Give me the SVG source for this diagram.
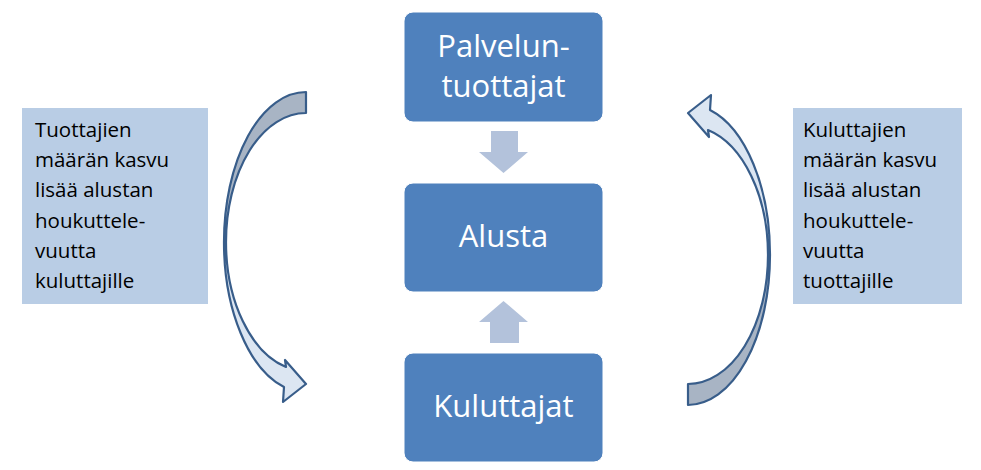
<svg xmlns="http://www.w3.org/2000/svg" width="981" height="470" viewBox="0 0 981 470">
<style>
.node{fill:#4f81bd;stroke:#ffffff;stroke-width:1}
.ntext{font-family:"Open Sans","Liberation Sans",sans-serif;font-size:31px;fill:#ffffff;text-anchor:middle}
.side{fill:#b9cde5}
.stext{font-family:"Open Sans","Liberation Sans",sans-serif;font-size:20.5px;fill:#000000}
.blk{fill:#b3c2db}
.dark{fill:#a8b4c4;stroke:#385d8a;stroke-width:2.2;stroke-linejoin:round}
.light{fill:#dce6f2;stroke:#385d8a;stroke-width:2.2;stroke-linejoin:round}
</style>
<rect width="981" height="470" fill="#ffffff"/>
<g id="left-note">
<rect class="side" x="22" y="108" width="186" height="196"/>
<text class="stext" x="35" y="137">Tuottajien</text>
<text class="stext" x="35" y="167">määrän kasvu</text>
<text class="stext" x="35" y="197">lisää alustan</text>
<text class="stext" x="35" y="228">houkuttele-</text>
<text class="stext" x="35" y="258">vuutta</text>
<text class="stext" x="35" y="288">kuluttajille</text>
</g>
<g id="right-note">
<rect class="side" x="793" y="108" width="169" height="196"/>
<text class="stext" x="803" y="137">Kuluttajien</text>
<text class="stext" x="803" y="167">määrän kasvu</text>
<text class="stext" x="803" y="197">lisää alustan</text>
<text class="stext" x="803" y="228">houkuttele-</text>
<text class="stext" x="803" y="258">vuutta</text>
<text class="stext" x="803" y="288">tuottajille</text>
</g>
<g id="palveluntuottajat">
<rect class="node" x="404" y="12" width="199" height="110" rx="9"/>
<text class="ntext" x="503.5" y="57">Palvelun-</text>
<text class="ntext" x="503.5" y="97">tuottajat</text>
</g>
<g id="alusta">
<rect class="node" x="404" y="183" width="199" height="109" rx="9"/>
<text class="ntext" x="503.5" y="247">Alusta</text>
</g>
<g id="kuluttajat">
<rect class="node" x="404" y="353" width="199" height="109" rx="9"/>
<text class="ntext" x="503.5" y="417">Kuluttajat</text>
</g>
<g id="connectors">
<polygon class="blk" points="491,131 518,131 518,152 528,152 503.5,173 479,152 491,152"/>
<polygon class="blk" points="490,343 519,343 519,322 528,322 503.5,301 479,322 490,322"/>
<g id="left-cycle-arrow">
<path class="dark" d="M306,92 A82,150 0 0 0 224,242 L226,242 A80,129 0 0 1 306,113 Z"/>
<path class="light" d="M224,242 A82,150 0 0 0 284,387 L283,402 L306,384 L285,360 L286,367 A80,129 0 0 1 226,242 Z"/>
</g>
<g id="right-cycle-arrow" transform="rotate(180 497 248.5)">
<path class="dark" d="M306,92 A82,150 0 0 0 224,242 L226,242 A80,129 0 0 1 306,113 Z"/>
<path class="light" d="M224,242 A82,150 0 0 0 284,387 L283,402 L306,384 L285,360 L286,367 A80,129 0 0 1 226,242 Z"/>
</g>
</g>
</svg>
